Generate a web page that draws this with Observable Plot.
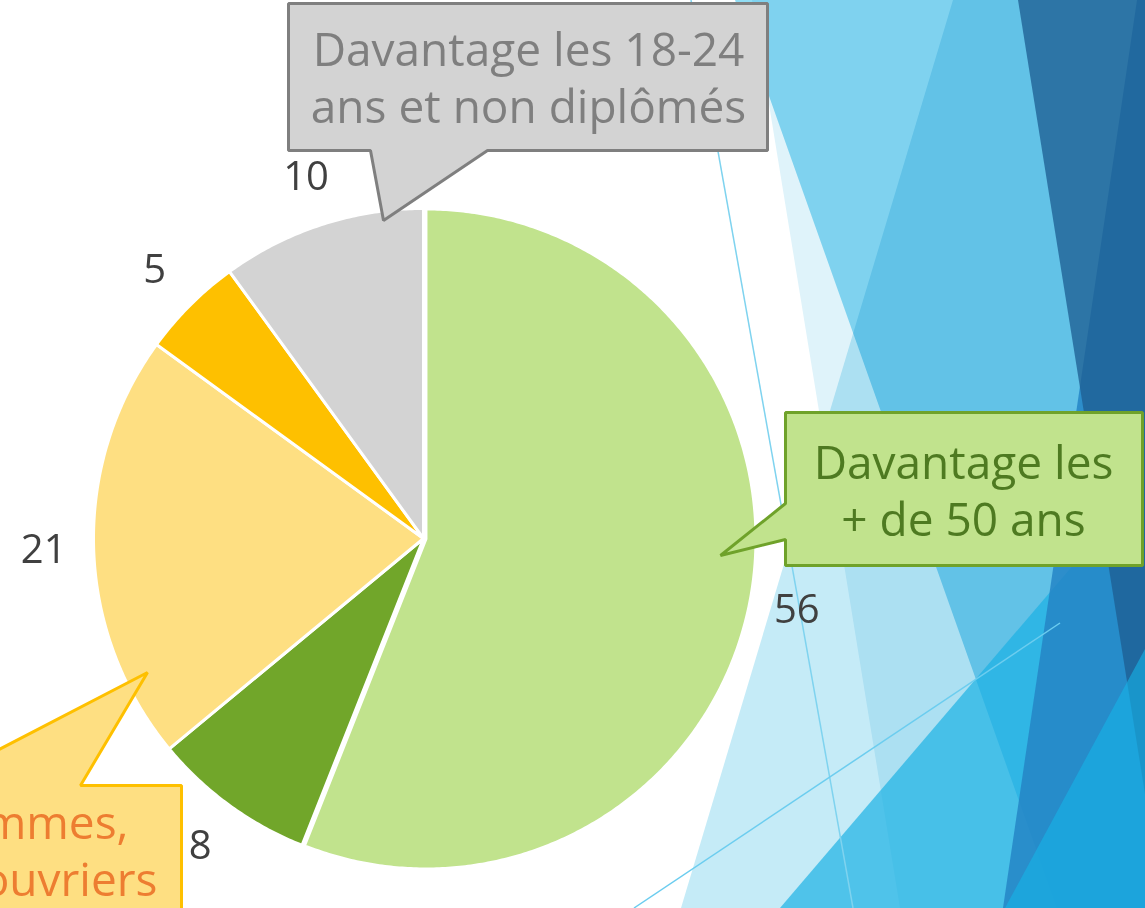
<!DOCTYPE html>
<html><head><meta charset="utf-8">
<script src="https://cdn.jsdelivr.net/npm/d3@7"></script>
<script src="https://cdn.jsdelivr.net/npm/@observablehq/plot@0.6"></script>
<style>
html,body{margin:0;padding:0;background:#fff;}
#wrap{position:relative;width:1145px;height:908px;overflow:hidden;}
#bg{position:absolute;left:0;top:0;}
#chart{position:absolute;left:0;top:0;}
</style></head><body>
<div id="wrap"><svg id="bg" width="1145" height="908"></svg><div id="chart"></div></div>
<script>
// ---- data ----
const categories = ["+ de 50 ans", "Autres", "Femmes, employés et ouvriers", "Divers", "18-24 ans et non diplômés"];
const values = [56, 8, 21, 5, 10];
const sliceColors = ["#c1e38d", "#71a62a", "#fedf82", "#fec000", "#d3d3d3"];
const sliceExplode = [2.5, 0, 0, 0, 0];

// callout annotations
const calloutIds = ["gris", "vert", "orange"];
const calloutFills = ["#d3d3d3", "#c1e38d", "#fedf82"];
const calloutStrokes = ["#7f7f7f", "#6fa22a", "#fec000"];
const calloutTextColors = ["#7f7f7f", "#4e7a21", "#ed7d31"];
const calloutShapes = [
  [[288,3],[767,3],[767,150],[487,150],[383,220],[370,150],[288,150]],
  [[785,412],[1142,412],[1142,565],[785,565],[785,539],[720,555],[785,503]],
  [[-300,785],[-71,785],[147,672],[80,785],[181,785],[181,980],[-300,980]]
];
const calloutLines = [
  ["Davantage les 18-24", "ans et non diplômés"],
  ["Davantage les", "+ de 50 ans"],
  ["Davantage les femmes,", "employés et ouvriers"]
];
const calloutAnchors = ["middle", "middle", "end"];
const calloutTextX = [528, 963, 128];
const calloutTextX2 = [528, 963, 157];
const calloutBaselines = [[65, 122], [478, 535], [838, 895]];

// background decoration (right side facets)
const bgMultiply = [
  {pts:[[752,0],[1145,0],[1145,908],[900,908]], fill:"#dff3fa"},
  {pts:[[953,0],[1145,0],[1145,908],[681,908]], fill:"#c5ebf7"},
  {pts:[[735,0],[1145,0],[1145,908],[1057,908]], fill:"#91ddf4"}
];
const bgNormal = [
  {pts:[[780,908],[1145,481],[1145,908]], fill:"rgba(26,177,228,0.69)"},
  {pts:[[1137,0],[1145,0],[1145,908],[1003,908]], fill:"rgba(37,133,197,0.85)"},
  {pts:[[1018,0],[1145,0],[1145,794]], fill:"rgba(30,94,146,0.77)"},
  {pts:[[1145,649],[1145,908],[1005,908]], fill:"rgba(21,180,232,0.6)"}
];
const bgLines = [
  {pts:[[691,0],[853,908]], stroke:"#7fd3ef"},
  {pts:[[634,908],[1060,623]], stroke:"#6ccdef"}
];

// ---- background ----
const bg = d3.select("#bg");
bgMultiply.forEach(s => bg.append("polygon").attr("points", s.pts.join(" ")).attr("fill", s.fill).style("mix-blend-mode","multiply"));
bgNormal.forEach(s => bg.append("polygon").attr("points", s.pts.join(" ")).attr("fill", s.fill));
bgLines.forEach(s => bg.append("polyline").attr("points", s.pts.join(" ")).attr("fill","none").attr("stroke", s.stroke).attr("stroke-width",1.5));

// ---- pie geometry ----
const W = 1145, H = 908;
const cx = 423, cy = 538, r = 330, labelR = 380;
const total = d3.sum(values);
const slicePts = [];
const labels = [];
let acc = 0;
values.forEach((v, i) => {
  const a0 = acc / total * 2 * Math.PI;
  acc += v;
  const a1 = acc / total * 2 * Math.PI;
  const am = (a0 + a1) / 2;
  const ox = cx + sliceExplode[i] * Math.sin(am), oy = cy - sliceExplode[i] * Math.cos(am);
  slicePts.push({i, x: ox, y: oy, c: sliceColors[i]});
  const n = Math.max(2, Math.ceil((a1 - a0) / (Math.PI / 360)));
  for (let k = 0; k <= n; k++) {
    const a = a0 + (a1 - a0) * k / n;
    slicePts.push({i, x: ox + r * Math.sin(a), y: oy - r * Math.cos(a), c: sliceColors[i]});
  }
  labels.push({x: cx + labelR * Math.sin(am), y: cy - labelR * Math.cos(am), text: String(v)});
});

const calloutPts = [];
calloutShapes.forEach((pts, j) => pts.forEach(p => calloutPts.push({id: calloutIds[j], x: p[0], y: p[1], f: calloutFills[j], s: calloutStrokes[j]})));

const fs = 46;
const textMid = [], textEnd = [];
calloutLines.forEach((ls, j) => ls.forEach((t, k) => {
  const d = {x: k === 0 ? calloutTextX[j] : calloutTextX2[j], y: calloutBaselines[j][k] - 0.32 * fs, text: t, c: calloutTextColors[j]};
  (calloutAnchors[j] === "end" ? textEnd : textMid).push(d);
}));

const chart = Plot.plot({
  width: W, height: H, margin: 0,
  style: {background: "transparent", overflow: "visible"},
  x: {domain: [0, W], axis: null},
  y: {domain: [0, H], reverse: true, axis: null},
  color: {type: "identity"},
  marks: [
    Plot.line(slicePts, {x: "x", y: "y", z: "i", fill: "c", stroke: "white", strokeWidth: 3, strokeLinejoin: "round", curve: "linear-closed"}),
    Plot.line(calloutPts, {x: "x", y: "y", z: "id", fill: "f", stroke: "s", strokeWidth: 3, strokeLinejoin: "miter", curve: "linear-closed"}),
    Plot.text(textMid, {x: "x", y: "y", text: "text", fill: "c", fontSize: fs, fontFamily: "Open Sans", textAnchor: "middle", lineAnchor: "middle"}),
    Plot.text(textEnd, {x: "x", y: "y", text: "text", fill: "c", fontSize: fs, fontFamily: "Open Sans", textAnchor: "end", lineAnchor: "middle"}),
    Plot.text(labels, {x: "x", y: "y", text: "text", fill: "#404040", fontSize: 40, fontFamily: "Open Sans", textAnchor: "middle", lineAnchor: "middle"})
  ]
});
document.getElementById("chart").appendChild(chart);
</script>
</body></html>
